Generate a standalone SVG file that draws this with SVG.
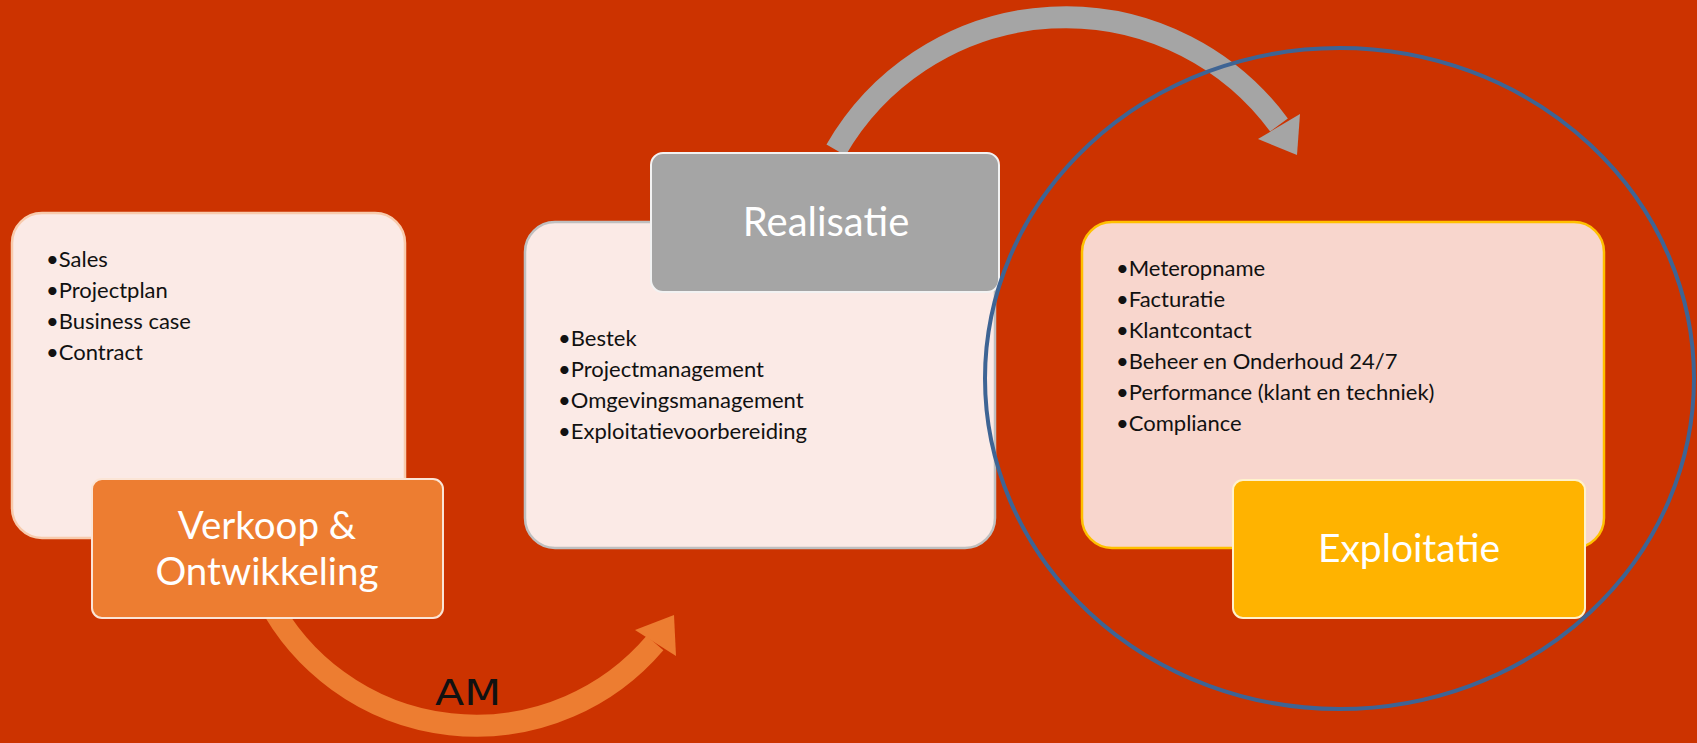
<svg xmlns="http://www.w3.org/2000/svg" width="1697" height="743" viewBox="0 0 1697 743">
<style>
.bg{fill:#CC3300}
.card{fill:#FBEAE6;stroke-width:2.5}
.item{font-family:Lato,"Liberation Sans",sans-serif;font-size:22px;fill:#111111}
.head{font-family:Lato,"Liberation Sans",sans-serif;fill:#FFFFFF;text-anchor:middle}
</style>
<rect class="bg" x="0" y="0" width="1697" height="743"/>
<g id="connectors">
  <g id="arrow-realisatie-exploitatie">
    <path d="M 836 150 A 265 265 0 0 1 1279 125" fill="none" stroke="#A5A5A5" stroke-width="22"/>
    <polygon points="1258,139 1300,114 1297,155" fill="#A5A5A5"/>
  </g>
  <g id="arrow-am">
    <path d="M 268 600 A 235 235 0 0 0 655 643" fill="none" stroke="#ED7D31" stroke-width="22"/>
    <polygon points="635,630 676,656 674,615" fill="#ED7D31"/>
    <text x="468" y="705" font-family="DejaVu Sans, sans-serif" font-size="36" fill="#111111" text-anchor="middle" textLength="66" lengthAdjust="spacingAndGlyphs">AM</text>
  </g>
</g>
<g id="node-verkoop">
  <rect class="card" x="12" y="213" width="393" height="325" rx="30" stroke="#F8CBAD"/>
  <text class="item" x="46" y="267">•Sales</text>
  <text class="item" x="46" y="298">•Projectplan</text>
  <text class="item" x="46" y="329">•Business case</text>
  <text class="item" x="46" y="360">•Contract</text>
  <rect x="92" y="479" width="351" height="139" rx="10" fill="#ED7D31" stroke="#FBE5D6" stroke-width="2"/>
  <text class="head" x="267" y="539" font-size="38.5">Verkoop &amp;</text>
  <text class="head" x="267" y="585" font-size="38.5">Ontwikkeling</text>
</g>
<g id="node-realisatie">
  <rect class="card" x="525" y="222" width="470" height="326" rx="30" stroke="#BFBFBF"/>
  <text class="item" x="558" y="346">•Bestek</text>
  <text class="item" x="558" y="377">•Projectmanagement</text>
  <text class="item" x="558" y="408">•Omgevingsmanagement</text>
  <text class="item" x="558" y="439">•Exploitatievoorbereiding</text>
  <rect x="651" y="153" width="348" height="139" rx="12" fill="#A5A5A5" stroke="#F2F2F2" stroke-width="2"/>
  <text class="head" x="826" y="236" font-size="40">Realisatie</text>
</g>
<g id="node-exploitatie">
  <rect x="1082" y="222" width="522" height="326" rx="30" fill="#F8D6CD" stroke="#FFC000" stroke-width="2.5"/>
  <text class="item" x="1116" y="276">•Meteropname</text>
  <text class="item" x="1116" y="307">•Facturatie</text>
  <text class="item" x="1116" y="338">•Klantcontact</text>
  <text class="item" x="1116" y="369">•Beheer en Onderhoud 24/7</text>
  <text class="item" x="1116" y="400">•Performance (klant en techniek)</text>
  <text class="item" x="1116" y="431">•Compliance</text>
  <rect x="1233" y="480" width="352" height="138" rx="10" fill="#FFB300" stroke="#FFF2CC" stroke-width="2"/>
  <text class="head" x="1409" y="562" font-size="39">Exploitatie</text>
</g>
<g id="highlight">
  <ellipse cx="1339.5" cy="378.5" rx="354.5" ry="330.5" fill="none" stroke="#3E6494" stroke-width="4"/>
</g>
</svg>
